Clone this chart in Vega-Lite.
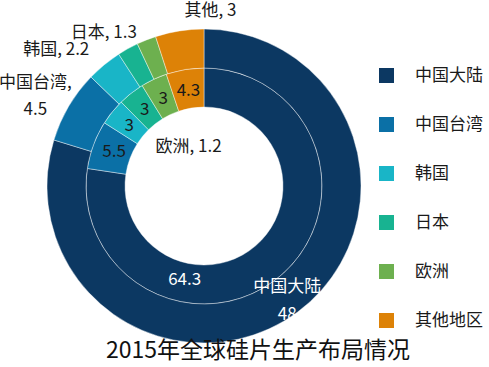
{
  "$schema": "https://vega.github.io/schema/vega-lite/v6.json",
  "width": 408,
  "height": 372,
  "padding": {"left": 0, "top": 0, "right": 81, "bottom": 0},
  "autosize": {"type": "none"},
  "background": "#ffffff",
  "config": {
    "view": {"stroke": null},
    "font": "Noto Sans CJK SC",
    "text": {"font": "Noto Sans CJK SC", "fontSize": 17, "lineBreak": "\n", "lineHeight": 27, "align": "center", "baseline": "middle"}
  },
  "title": {
    "text": "2015年全球硅片生产布局情况",
    "orient": "bottom",
    "anchor": "middle",
    "frame": "group",
    "font": "Noto Sans CJK SC",
    "fontSize": 23,
    "fontWeight": "normal",
    "color": "#111111",
    "offset": 0,
    "dx": 54,
    "dy": -32
  },
  "data": {
    "values": [
      {"ring": "inner", "region": "中国大陆", "value": 64.3, "idx": 1, "label": "64.3"},
      {"ring": "inner", "region": "中国台湾", "value": 5.5, "idx": 2, "label": "5.5"},
      {"ring": "inner", "region": "韩国", "value": 3, "idx": 3, "label": "3"},
      {"ring": "inner", "region": "日本", "value": 3, "idx": 4, "label": "3"},
      {"ring": "inner", "region": "欧洲", "value": 3, "idx": 5, "label": "3"},
      {"ring": "inner", "region": "其他地区", "value": 4.3, "idx": 6, "label": "4.3"},
      {"ring": "outer", "region": "中国大陆", "value": 48, "idx": 1, "label": "中国大陆\n48"},
      {"ring": "outer", "region": "中国台湾", "value": 4.5, "idx": 2, "label": "中国台湾,\n4.5"},
      {"ring": "outer", "region": "韩国", "value": 2.2, "idx": 3, "label": "韩国, 2.2"},
      {"ring": "outer", "region": "日本", "value": 1.3, "idx": 4, "label": "日本, 1.3"},
      {"ring": "outer", "region": "欧洲", "value": 1.2, "idx": 5, "label": "欧洲, 1.2"},
      {"ring": "outer", "region": "其他地区", "value": 3, "idx": 6, "label": "其他, 3"}
    ]
  },
  "layer": [
    {
      "transform": [{"filter": "datum.ring === 'inner'"}],
      "mark": {"type": "arc", "radius": 118, "radius2": 79, "stroke": "#ffffff", "strokeWidth": 0.6, "strokeOpacity": 0.7},
      "encoding": {
        "theta": {"field": "value", "type": "quantitative", "stack": "normalize"},
        "order": {"field": "idx"},
        "color": {
          "field": "region", "type": "nominal",
          "scale": {
            "domain": ["中国大陆", "中国台湾", "韩国", "日本", "欧洲", "其他地区"],
            "range": ["#0c3862", "#0b70a6", "#19b5c7", "#18b391", "#6db04f", "#dd8207"]
          },
          "legend": {
            "title": null,
            "orient": "none",
            "legendX": 378,
            "legendY": 67,
            "padding": 0,
            "symbolType": "square",
            "symbolSize": 225,
            "symbolStrokeWidth": 0,
            "symbolOpacity": 1,
            "labelFont": "Noto Sans CJK SC",
            "labelFontSize": 17,
            "labelColor": "#1a1a1a",
            "labelOffset": 20,
            "rowPadding": 31
          }
        }
      }
    },
    {
      "transform": [{"filter": "datum.ring === 'outer'"}],
      "mark": {"type": "arc", "radius": 157, "radius2": 118, "stroke": "#ffffff", "strokeWidth": 0.6, "strokeOpacity": 0.7},
      "encoding": {
        "theta": {"field": "value", "type": "quantitative", "stack": "normalize"},
        "order": {"field": "idx"},
        "color": {"field": "region", "type": "nominal"}
      }
    },
    {
      "transform": [{"filter": "datum.ring === 'inner'"}],
      "mark": {"type": "text", "radius": 96, "color": "#1a1a1a"},
      "encoding": {
        "theta": {"field": "value", "type": "quantitative", "stack": "normalize"},
        "order": {"field": "idx"},
        "detail": {"field": "region"},
        "text": {"condition": {"test": "datum.region === '中国大陆'", "value": ""}, "field": "label", "type": "nominal"}
      }
    },
    {
      "transform": [{"filter": "datum.ring === 'inner'"}],
      "mark": {"type": "text", "radius": 93, "dx": -80, "dy": 24, "color": "#ffffff"},
      "encoding": {
        "theta": {"field": "value", "type": "quantitative", "stack": "normalize"},
        "order": {"field": "idx"},
        "detail": {"field": "region"},
        "text": {"condition": {"test": "datum.region !== '中国大陆'", "value": ""}, "field": "label", "type": "nominal"}
      }
    },
    {
      "transform": [{"filter": "datum.ring === 'outer'"}],
      "mark": {"type": "text", "radius": 140, "dy": -12, "color": "#ffffff", "lineHeight": 28},
      "encoding": {
        "theta": {"field": "value", "type": "quantitative", "stack": "normalize"},
        "order": {"field": "idx"},
        "detail": {"field": "region"},
        "text": {"condition": {"test": "datum.region !== '中国大陆'", "value": ""}, "field": "label", "type": "nominal"}
      }
    },
    {
      "transform": [{"filter": "datum.ring === 'outer'"}],
      "mark": {"type": "text", "radius": 190, "dx": -5, "dy": -7, "color": "#1a1a1a"},
      "encoding": {
        "theta": {"field": "value", "type": "quantitative", "stack": "normalize"},
        "order": {"field": "idx"},
        "detail": {"field": "region"},
        "text": {"condition": {"test": "datum.region !== '中国台湾'", "value": ""}, "field": "label", "type": "nominal"}
      }
    },
    {
      "transform": [{"filter": "datum.ring === 'outer'"}],
      "mark": {"type": "text", "radius": 190, "dx": -27, "dy": 11, "color": "#1a1a1a"},
      "encoding": {
        "theta": {"field": "value", "type": "quantitative", "stack": "normalize"},
        "order": {"field": "idx"},
        "detail": {"field": "region"},
        "text": {"condition": {"test": "datum.region !== '韩国'", "value": ""}, "field": "label", "type": "nominal"}
      }
    },
    {
      "transform": [{"filter": "datum.ring === 'outer'"}],
      "mark": {"type": "text", "radius": 190, "dx": -8, "dy": 13, "color": "#1a1a1a"},
      "encoding": {
        "theta": {"field": "value", "type": "quantitative", "stack": "normalize"},
        "order": {"field": "idx"},
        "detail": {"field": "region"},
        "text": {"condition": {"test": "datum.region !== '日本'", "value": ""}, "field": "label", "type": "nominal"}
      }
    },
    {
      "transform": [{"filter": "datum.ring === 'outer'"}],
      "mark": {"type": "text", "radius": 42, "color": "#1a1a1a"},
      "encoding": {
        "theta": {"field": "value", "type": "quantitative", "stack": "normalize"},
        "order": {"field": "idx"},
        "detail": {"field": "region"},
        "text": {"condition": {"test": "datum.region !== '欧洲'", "value": ""}, "field": "label", "type": "nominal"}
      }
    },
    {
      "transform": [{"filter": "datum.ring === 'outer'"}],
      "mark": {"type": "text", "radius": 190, "dx": 36, "dy": 13, "color": "#1a1a1a"},
      "encoding": {
        "theta": {"field": "value", "type": "quantitative", "stack": "normalize"},
        "order": {"field": "idx"},
        "detail": {"field": "region"},
        "text": {"condition": {"test": "datum.region !== '其他地区'", "value": ""}, "field": "label", "type": "nominal"}
      }
    }
  ]
}
